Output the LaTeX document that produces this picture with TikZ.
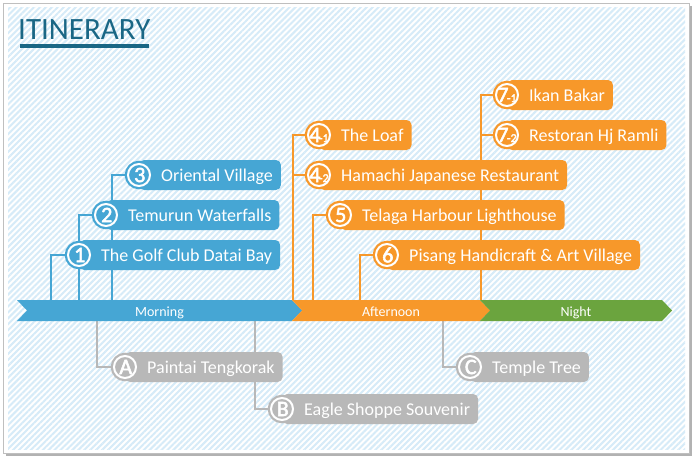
\documentclass[tikz,border=0pt]{standalone}
\usepackage{fontspec}
\setmainfont{Carlito}
\newfontfamily\badgefont{Carlito}[FakeBold=2.5]
\usetikzlibrary{patterns.meta}

\definecolor{tripblue}{RGB}{70,166,212}
\definecolor{triporange}{RGB}{247,152,42}
\definecolor{tripgreen}{RGB}{107,164,62}
\definecolor{tripgray}{RGB}{184,184,184}
\definecolor{titleteal}{RGB}{26,103,133}
\definecolor{stripe}{RGB}{214,235,248}

\pgfdeclarelayer{bg}
\pgfdeclarelayer{lines}
\pgfsetlayers{bg,lines,main}

\newcommand{\subnum}[2]{\makebox[12pt]{#1\kern-1.5pt{\fontsize{12}{12}\selectfont #2}}}

\begin{document}
\begin{tikzpicture}[x=1pt,y=-1pt,
  visit/.style={fill=#1,rounded corners=5pt,text=white,anchor=west,inner xsep=8pt,
    minimum height=30pt,text height=15pt,text depth=3pt,font=\fontsize{18}{18}\selectfont},
  badge/.style={circle,fill=#1,draw=white,line width=2pt,minimum size=22pt,inner sep=0pt,
    text=white,font=\badgefont\fontsize{22}{22}\selectfont,preaction={draw=#1,line width=6.5pt}},
  link/.style={draw=#1,line width=2pt},
  period/.style={text=white,anchor=base,font=\fontsize{14}{14}\selectfont}]
\useasboundingbox (0,0) rectangle (696,463);
\begin{pgfonlayer}{bg}
\fill[black!30] (6,6) rectangle (692,456);
\filldraw[fill=white,draw=black!25] (3,3) rectangle (689,453);
\fill[pattern={Lines[angle=45,distance=4.2pt,line width=2pt]},pattern color=stripe] (8,7) rectangle (685,449);
\end{pgfonlayer}

% title
\node[anchor=base west,inner sep=0pt,text=titleteal,font=\fontsize{31}{31}\selectfont] (title) at (18,39.5) {ITINERARY};
\draw[titleteal,line width=4pt] ([shift={(2pt,-6pt)}]title.base west) -- ([shift={(-2pt,-6pt)}]title.base east);

% time bar
\foreach \a/\b/\c/\t/\n in {17/292/tripblue/Morning/morning,292/480/triporange/Afternoon/afternoon,480/662/tripgreen/Night/night}{
  \fill[\c] (\a,300) -- (\b,300) -- (\b+10,310.5) -- (\b,321) -- (\a,321) -- (\a+10,310.5) -- cycle;
  \node[period] (\n) at ({(\a+\b)/2+5},316) {\t};
}
\coordinate (m1) at (51,300);
\coordinate (m2) at (79,300);
\coordinate (m3) at (112,300);
\coordinate (a4) at (293,300);
\coordinate (a5) at (313,300);
\coordinate (a6) at (360,300);
\coordinate (n7) at (481,300);
\coordinate (mA) at (97,321);
\coordinate (mB) at (255,321);
\coordinate (nC) at (443,321);

% morning
\node[visit=tripblue] (v1) at (79,255) {\hspace{14pt}The Golf Club Datai Bay};
\node[visit=tripblue] (v2) at (106,215) {\hspace{14pt}Temurun Waterfalls};
\node[visit=tripblue] (v3) at (139,175) {\hspace{14pt}Oriental Village};
\node[badge=tripblue] (b1) at (79,255) {\subnum{1}{}};
\node[badge=tripblue] (b2) at (106,215) {\subnum{2}{}};
\node[badge=tripblue] (b3) at (139,175) {\subnum{3}{}};

% afternoon and night
\node[visit=triporange] (v41) at (319,135) {\hspace{14pt}The Loaf};
\node[visit=triporange] (v42) at (319,175) {\hspace{14pt}Hamachi Japanese Restaurant};
\node[visit=triporange] (v5) at (340,215) {\hspace{14pt}Telaga Harbour Lighthouse};
\node[visit=triporange] (v6) at (387,255) {\hspace{14pt}Pisang Handicraft \& Art Village};
\node[visit=triporange] (v71) at (507,95) {\hspace{14pt}Ikan Bakar};
\node[visit=triporange] (v72) at (507,135) {\hspace{14pt}Restoran Hj Ramli};
\node[badge=triporange] (b41) at (319,135) {\subnum{4}{-1}};
\node[badge=triporange] (b42) at (319,175) {\subnum{4}{-2}};
\node[badge=triporange] (b5) at (340,215) {\subnum{5}{}};
\node[badge=triporange] (b6) at (387,255) {\subnum{6}{}};
\node[badge=triporange] (b71) at (507,95) {\subnum{7}{-1}};
\node[badge=triporange] (b72) at (507,135) {\subnum{7}{-2}};

% extra stops
\node[visit=tripgray] (vA) at (125,367) {\hspace{14pt}Paintai Tengkorak};
\node[visit=tripgray] (vB) at (282,409) {\hspace{14pt}Eagle Shoppe Souvenir};
\node[visit=tripgray] (vC) at (470,367) {\hspace{14pt}Temple Tree};
\node[badge=tripgray] (bA) at (125,367) {\subnum{A}{}};
\node[badge=tripgray] (bB) at (282,409) {\subnum{B}{}};
\node[badge=tripgray] (bC) at (470,367) {\subnum{C}{}};

\begin{pgfonlayer}{lines}
\draw[link=tripblue] (b1) -| (m1);
\draw[link=tripblue] (b2) -| (m2);
\draw[link=tripblue] (b3) -| (m3);
\draw[link=triporange] (b41) -| (a4);
\draw[link=triporange] (b42) -| (a4);
\draw[link=triporange] (b5) -| (a5);
\draw[link=triporange] (b6) -| (a6);
\draw[link=triporange] (b71) -| (n7);
\draw[link=triporange] (b72) -| (n7);
\draw[link=tripgray] (bA) -| (mA);
\draw[link=tripgray] (bB) -| (mB);
\draw[link=tripgray] (bC) -| (nC);
\end{pgfonlayer}
\end{tikzpicture}
\end{document}
